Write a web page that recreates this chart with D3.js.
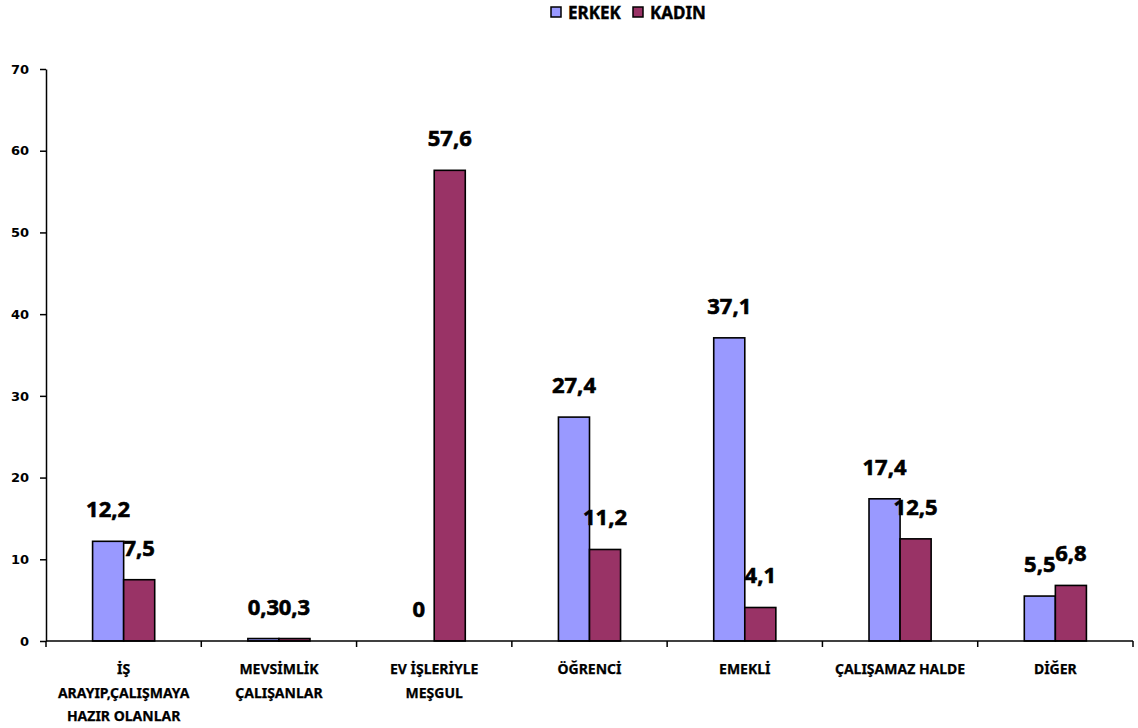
<!DOCTYPE html>
<html>
<head>
<meta charset="utf-8">
<script src="https://cdn.jsdelivr.net/npm/d3@7"></script>
<style>
  body { margin: 0; background: #fff; }
  svg { display: block; }
</style>
</head>
<body>
<svg id="chart" width="1138" height="728"></svg>
<script>
// chart data
var categories = ['İŞ ARAYIP,ÇALIŞMAYA HAZIR OLANLAR', 'MEVSİMLİK ÇALIŞANLAR', 'EV İŞLERİYLE MEŞGUL',
    'ÖĞRENCİ', 'EMEKLİ', 'ÇALIŞAMAZ HALDE', 'DİĞER'];
var categoryLines = [
    ['İŞ', 'ARAYIP,ÇALIŞMAYA', 'HAZIR OLANLAR'],
    ['MEVSİMLİK', 'ÇALIŞANLAR'],
    ['EV İŞLERİYLE', 'MEŞGUL'],
    ['ÖĞRENCİ'],
    ['EMEKLİ'],
    ['ÇALIŞAMAZ HALDE'],
    ['DİĞER']
];
var seriesNames = ['ERKEK', 'KADIN'];
var erkek = [12.2, 0.3, 0, 27.4, 37.1, 17.4, 5.5];
var kadin = [7.5, 0.3, 57.6, 11.2, 4.1, 12.5, 6.8];
var yTicks = [0, 10, 20, 30, 40, 50, 60, 70];

var colors = { ERKEK: '#9999ff', KADIN: '#993366' };
var labelFont = '"Noto Sans", "Open Sans", sans-serif';

var svg = d3.select('#chart');
var margin = { left: 46, right: 1133, top: 69, bottom: 641 };

var x0 = d3.scaleBand()
    .domain(categories)
    .range([margin.left, margin.right])
    .padding(0);

var x1 = d3.scaleBand()
    .domain(seriesNames)
    .range([0, x0.bandwidth()])
    .paddingInner(0)
    .paddingOuter(1.5);

var y = d3.scaleLinear()
    .domain([0, 70])
    .range([margin.bottom, margin.top]);

var rows = categories.map(function(c, i) {
    return { cat: c, values: [ { key: 'ERKEK', v: erkek[i] }, { key: 'KADIN', v: kadin[i] } ] };
});

// bars
var groups = svg.append('g').attr('class', 'bars')
    .selectAll('g')
    .data(rows)
    .enter().append('g')
        .attr('transform', function(d) { return 'translate(' + x0(d.cat) + ',0)'; });

groups.selectAll('rect')
    .data(function(d) { return d.values; })
    .enter().append('rect')
        .attr('x', function(d) { return x1(d.key); })
        .attr('y', function(d) { return y(d.v); })
        .attr('width', x1.bandwidth())
        .attr('height', function(d) { return y(0) - y(d.v); })
        .attr('fill', function(d) { return colors[d.key]; })
        .attr('stroke', '#000')
        .attr('stroke-width', 1.6);

// value labels, a thin stroke makes them as heavy as the original
groups.selectAll('text')
    .data(function(d) { return d.values; })
    .enter().append('text')
        .attr('x', function(d) { return x1(d.key) + x1.bandwidth() / 2; })
        .attr('y', function(d) { return y(d.v) - 24; })
        .attr('text-anchor', 'middle')
        .style('font-family', labelFont)
        .style('font-weight', 'bold')
        .style('font-size', '22px')
        .style('fill', '#000')
        .style('stroke', '#000')
        .style('stroke-width', 0.6)
        .text(function(d) { return String(d.v).replace('.', ','); });

// y axis
var yAxis = d3.axisLeft(y)
    .tickValues(yTicks)
    .tickSize(6)
    .tickPadding(11)
    .tickSizeOuter(0);

var gy = svg.append('g')
    .attr('transform', 'translate(' + margin.left + ',0)')
    .call(yAxis);
gy.select('.domain').attr('stroke', '#000').attr('stroke-width', 1.5);
gy.selectAll('.tick line').attr('stroke', '#000').attr('stroke-width', 1.5);
gy.selectAll('.tick text')
    .style('font-family', 'DejaVu Sans')
    .style('font-weight', 'bold')
    .style('font-size', '13px')
    .style('fill', '#000');

// x axis
var gx = svg.append('g').attr('class', 'x-axis');
gx.append('line')
    .attr('x1', margin.left).attr('x2', margin.right)
    .attr('y1', y(0)).attr('y2', y(0))
    .attr('stroke', '#000').attr('stroke-width', 1.5);

var boundaries = categories.map(function(c) { return x0(c); }).concat([x0.range()[1]]);
gx.selectAll('line.tick')
    .data(boundaries)
    .enter().append('line')
        .attr('class', 'tick')
        .attr('x1', function(d) { return d; }).attr('x2', function(d) { return d; })
        .attr('y1', y(0)).attr('y2', y(0) + 6)
        .attr('stroke', '#000').attr('stroke-width', 1.5);

var catLabels = gx.selectAll('text')
    .data(categories)
    .enter().append('text')
        .attr('x', function(d) { return x0(d) + x0.bandwidth() / 2; })
        .attr('y', 674)
        .attr('text-anchor', 'middle')
        .style('font-family', labelFont)
        .style('font-weight', 'bold')
        .style('font-size', '14px')
        .style('fill', '#000')
        .style('stroke', '#000')
        .style('stroke-width', 0.25);

catLabels.each(function(d, i) {
    var t = d3.select(this);
    var cx = x0(d) + x0.bandwidth() / 2;
    categoryLines[i].forEach(function(line, j) {
        t.append('tspan')
            .attr('x', cx)
            .attr('dy', j === 0 ? 0 : 23.5)
            .text(line);
    });
});

// legend
var legend = svg.append('g').attr('class', 'legend');
var legendX = [551, 633];
seriesNames.forEach(function(s, i) {
    legend.append('rect')
        .attr('x', legendX[i]).attr('y', 7)
        .attr('width', 10).attr('height', 10)
        .attr('fill', colors[s])
        .attr('stroke', '#000').attr('stroke-width', 1.5);
    legend.append('text')
        .attr('x', legendX[i] + 17).attr('y', 18.5)
        .style('font-family', labelFont)
        .style('font-weight', 'bold')
        .style('font-size', '17px')
        .style('fill', '#000')
        .style('stroke', '#000')
        .style('stroke-width', 0.4)
        .text(s);
});
</script>
</body>
</html>
